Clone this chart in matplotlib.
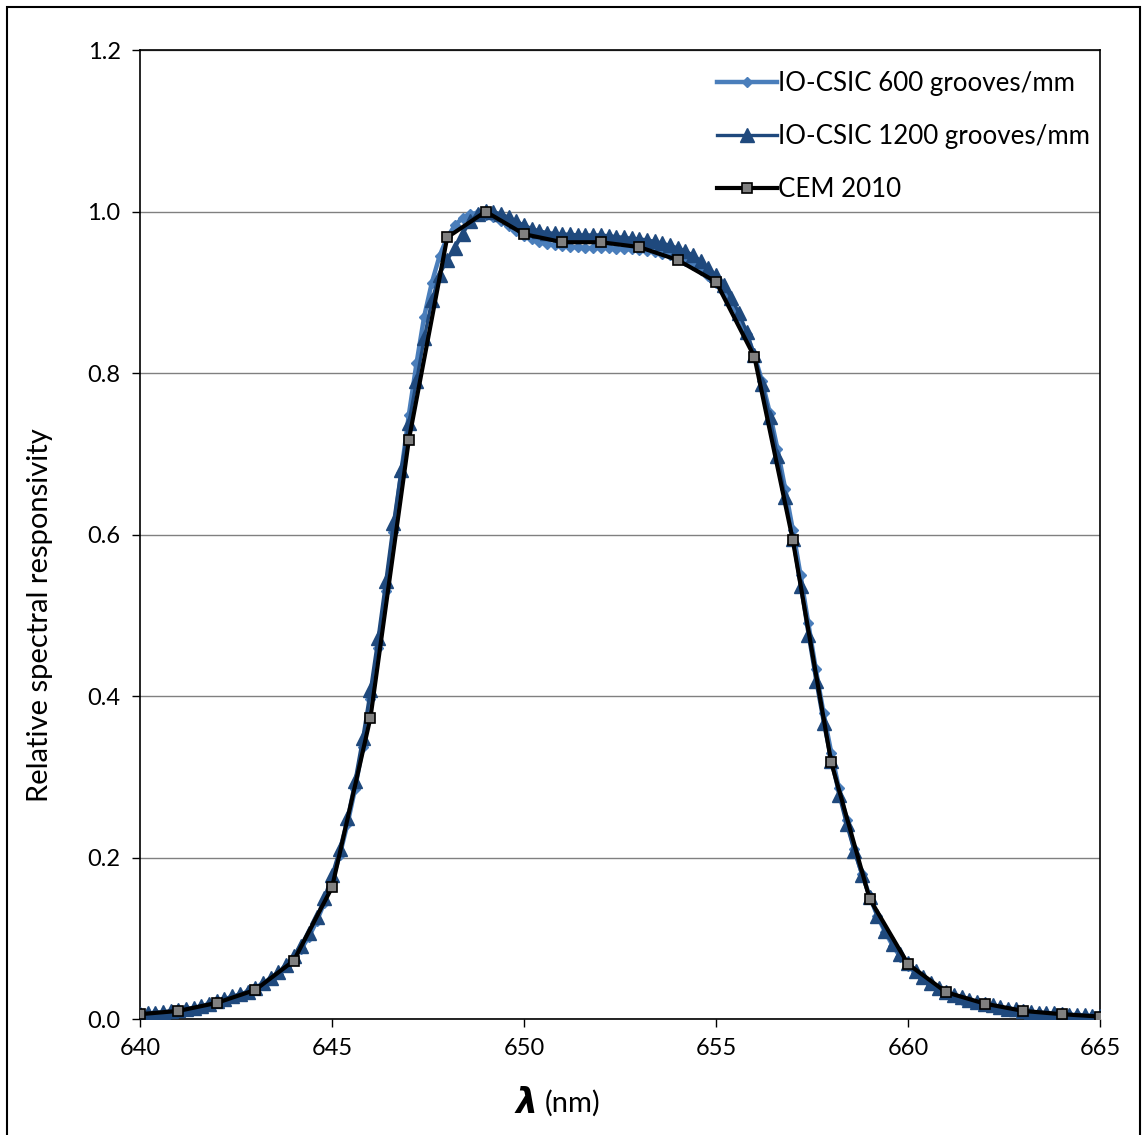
import numpy as np
import matplotlib
matplotlib.use("Agg")
import matplotlib.pyplot as plt
from matplotlib.patches import Rectangle

plt.rcParams['font.family'] = ['Lato', 'DejaVu Sans']

# IO-CSIC scans, 0.2 nm step
wl_io = np.round(np.arange(640.0, 665.01, 0.2), 1)
r_600 = [0.005, 0.006, 0.007, 0.008, 0.009,
         0.010, 0.012, 0.013, 0.015, 0.018,
         0.021, 0.024, 0.027, 0.030, 0.033,
         0.038, 0.043, 0.049, 0.056, 0.065,
         0.075, 0.087, 0.102, 0.121, 0.144,
         0.171, 0.203, 0.241, 0.285, 0.337,
         0.396, 0.460, 0.530, 0.603, 0.676,
         0.748, 0.812, 0.870, 0.912, 0.945,
         0.968, 0.983, 0.992, 0.997, 0.998,
         0.996, 0.993, 0.988, 0.982, 0.976,
         0.970, 0.966, 0.962, 0.960, 0.958,
         0.957, 0.956, 0.956, 0.955, 0.955,
         0.955, 0.955, 0.954, 0.954, 0.953,
         0.952, 0.951, 0.950, 0.948, 0.946,
         0.943, 0.939, 0.934, 0.928, 0.920,
         0.911, 0.900, 0.886, 0.869, 0.848,
         0.822, 0.790, 0.751, 0.706, 0.657,
         0.606, 0.550, 0.491, 0.433, 0.379,
         0.330, 0.286, 0.247, 0.211, 0.180,
         0.152, 0.128, 0.108, 0.091, 0.077,
         0.066, 0.057, 0.049, 0.042, 0.036,
         0.031, 0.027, 0.024, 0.021, 0.019,
         0.017, 0.015, 0.013, 0.012, 0.010,
         0.009, 0.008, 0.007, 0.0065, 0.006,
         0.0055, 0.005, 0.0045, 0.004, 0.0035,
         0.003]
r_1200 = [0.006, 0.007, 0.008, 0.009, 0.010,
          0.011, 0.013, 0.014, 0.016, 0.019,
          0.022, 0.025, 0.028, 0.031, 0.034,
          0.039, 0.044, 0.051, 0.058, 0.067,
          0.078, 0.090, 0.106, 0.126, 0.150,
          0.178, 0.210, 0.249, 0.295, 0.348,
          0.407, 0.472, 0.542, 0.614, 0.680,
          0.738, 0.790, 0.843, 0.890, 0.922,
          0.940, 0.955, 0.972, 0.988, 0.997,
          1.001, 1.000, 0.997, 0.993, 0.988,
          0.983, 0.979, 0.976, 0.974, 0.973,
          0.972, 0.972, 0.971, 0.971, 0.971,
          0.971, 0.970, 0.969, 0.968, 0.967,
          0.966, 0.965, 0.963, 0.961, 0.958,
          0.955, 0.951, 0.946, 0.939, 0.930,
          0.921, 0.909, 0.893, 0.874, 0.851,
          0.822, 0.787, 0.745, 0.697, 0.646,
          0.594, 0.536, 0.476, 0.419, 0.366,
          0.319, 0.278, 0.241, 0.208, 0.178,
          0.151, 0.128, 0.109, 0.093, 0.080,
          0.069, 0.060, 0.052, 0.045, 0.039,
          0.034, 0.030, 0.027, 0.024, 0.021,
          0.019, 0.017, 0.015, 0.013, 0.012,
          0.010, 0.009, 0.008, 0.0075, 0.007,
          0.006, 0.0055, 0.005, 0.0045, 0.004,
          0.0035]

# CEM 2010, 1 nm step
wl_cem = list(range(640, 666))
r_cem = [0.006, 0.010, 0.020, 0.036, 0.072, 0.163, 0.373, 0.717, 0.968, 1.000,
         0.972, 0.962, 0.962, 0.956, 0.940, 0.913, 0.820, 0.593, 0.318, 0.149,
         0.068, 0.033, 0.019, 0.010, 0.006, 0.003]

yticks = [0.0, 0.2, 0.4, 0.6, 0.8, 1.0, 1.2]
xticks = [640, 645, 650, 655, 660, 665]

fig = plt.figure(figsize=(11.43, 11.35), dpi=100)
ax = fig.add_axes([0.1225, 0.1022, 0.8399, 0.8537])

ax.plot(wl_io, r_600, color='#4A7EBB', lw=3.2, marker='D', ms=5,
        label='IO-CSIC 600 grooves/mm', zorder=3)
ax.plot(wl_io, r_1200, color='#1F497D', lw=2.4, marker='^', ms=9.5,
        label='IO-CSIC 1200 grooves/mm', zorder=4)
ax.plot(wl_cem, r_cem, color='black', lw=3, marker='s', ms=7,
        mfc='#808080', mec='black', mew=1.2, label='CEM 2010', zorder=5)

ax.set_xlim(640, 665)
ax.set_ylim(0, 1.2)
ax.set_xticks(xticks)
ax.set_yticks(yticks)
ax.set_yticklabels(['%.1f' % v for v in yticks])
ax.tick_params(labelsize=17, length=6, width=1, direction='out', pad=8)
ax.grid(axis='y', color='#808080', lw=1)
ax.set_axisbelow(True)
for s in ax.spines.values():
    s.set_linewidth(1.2)

fig.text(40 / 1143, 1 - 615 / 1135, 'Relative spectral responsivity', fontsize=21,
         rotation=90, ha='center', va='center')
fig.text(527 / 1143, 1 - 1103 / 1135, 'λ', fontsize=25, fontweight='bold',
         fontstyle='italic', family=['DejaVu Sans'], ha='center', va='center')
fig.text(545 / 1143, 1 - 1103 / 1135, '(nm)', fontsize=21, ha='left', va='center')

ax.legend(loc='upper right', bbox_to_anchor=(1.0, 1 - 11 / 969), frameon=False,
          fontsize=18.6, handlelength=2.3, handletextpad=0.05,
          labelspacing=1.07, borderaxespad=0.0)

fig.patches.append(Rectangle((7 / 1143, -0.01), 1133 / 1143, 1 - 7 / 1135 + 0.01,
                             transform=fig.transFigure, fill=False,
                             edgecolor='black', lw=1.5))

fig.savefig('out.png', dpi=100)
